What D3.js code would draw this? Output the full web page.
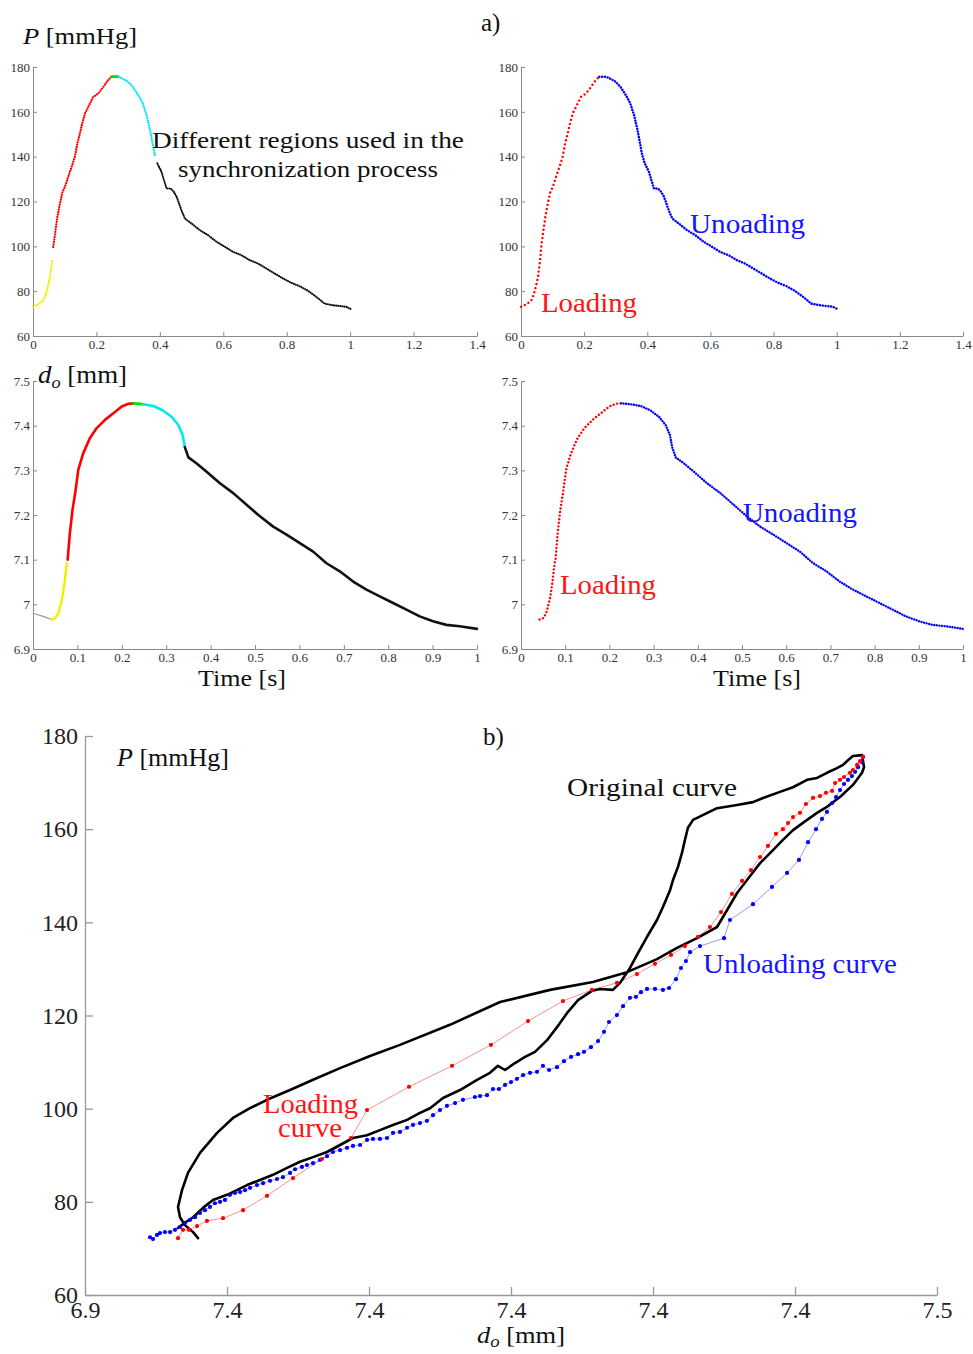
<!DOCTYPE html>
<html><head><meta charset="utf-8">
<script src="https://cdn.jsdelivr.net/npm/d3@7"></script>
<style>body{margin:0;background:#fff} svg{display:block} text{font-family:"Liberation Serif","Times New Roman",serif}</style>
</head><body><svg id="c" width="973" height="1354"></svg>
<script>
// ---------- DATA ----------
// a) pressure vs time
const pTime = [0,0.017,0.033,0.041,0.048,0.054,0.061,0.064,0.069,0.077,0.085,0.093,0.101,0.111,0.122,0.132,0.140,0.148,0.155,0.164,0.177,0.190,0.206,0.222,0.237,0.248,0.269,0.285,0.300,0.316,0.332,0.346,0.358,0.369,0.377,0.384,0.392,0.405,0.421,0.434,0.444,0.453,0.468,0.479,0.500,0.526,0.552,0.579,0.605,0.631,0.658,0.684,0.710,0.736,0.763,0.789,0.815,0.841,0.868,0.894,0.920,0.946,0.973,0.988,1.004];
const pValue = [73.0,74.1,75.9,78.9,82.6,86.4,94.5,99.8,105.0,113.2,119.1,124.3,126.6,131.0,135.5,140.0,146.0,150.4,154.8,159.3,163.0,166.7,168.2,171.2,174.2,175.7,175.7,174.6,173.4,170.9,167.5,163.8,158.6,151.9,145.9,140.7,137.0,133.3,125.8,125.8,124.3,122.1,116.1,112.4,110.2,107.2,105.0,102.0,99.8,97.5,96.0,93.8,92.3,90.1,87.8,85.6,83.7,82.2,80.1,77.4,74.4,73.7,73.3,73.0,71.9];
// a) diameter vs time
const dTime = [0,0.023,0.042,0.050,0.057,0.065,0.071,0.076,0.078,0.083,0.089,0.095,0.102,0.113,0.128,0.143,0.162,0.181,0.200,0.215,0.226,0.248,0.271,0.293,0.312,0.327,0.337,0.342,0.350,0.368,0.391,0.421,0.451,0.481,0.511,0.541,0.571,0.601,0.631,0.661,0.691,0.721,0.751,0.781,0.811,0.841,0.871,0.901,0.931,0.961,1.000];
const dValue = [6.980,6.973,6.966,6.969,6.980,7.010,7.048,7.092,7.100,7.159,7.212,7.249,7.301,7.338,7.372,7.394,7.413,7.428,7.443,7.449,7.450,7.448,7.444,7.434,7.420,7.402,7.379,7.352,7.329,7.316,7.297,7.271,7.249,7.223,7.197,7.174,7.156,7.137,7.118,7.092,7.074,7.051,7.033,7.018,7.003,6.988,6.973,6.962,6.954,6.951,6.945];
// region boundaries (time) used in the synchronization process
const pRegionBounds = [0, 0.062, 0.248, 0.269, 0.388, 1.01];
const dRegionBounds = [0, 0.042, 0.077, 0.226, 0.248, 0.342, 1.0];
const pLoadBounds = [0, 0.248, 1.01];
const dLoadBounds = [0.042, 0.226, 1.0];
// b) P-d loops
const origD = [6.9655,6.9704,6.9761,6.9831,6.9901,7.0000,7.0070,7.0141,7.0232,7.0324,7.0423,7.0514,7.0606,7.0704,7.0796,7.0887,7.0986,7.1077,7.1169,7.1268,7.1359,7.1430,7.1521,7.1641,7.1761,7.1852,7.1908,7.1958,7.2028,7.2099,7.2169,7.2254,7.2324,7.2394,7.2472,7.2570,7.2627,7.2718,7.2768,7.2838,7.2894,7.2958,7.3028,7.3070,7.3120,7.3141,7.3176,7.3204,7.3225,7.3246,7.3282,7.3451,7.3592,7.3704,7.3775,7.3894,7.3986,7.4085,7.4155,7.4225,7.4296,7.4338,7.4373,7.4408,7.4472,7.4486,7.4472,7.4408,7.4317,7.4225,7.4155,7.4085,7.3986,7.3915,7.3845,7.3754,7.3662,7.3592,7.3521,7.3451,7.3310,7.3169,7.3028,7.2817,7.2577,7.2275,7.1923,7.1570,7.1218,7.1007,7.0796,7.0606,7.0444,7.0282,7.0162,7.0042,6.9930,6.9810,6.9725,6.9683,6.9655,6.9669,6.9704,6.9761,6.9796];
const origP = [74.4,75.5,76.7,78.7,80.4,81.5,82.5,83.6,84.7,85.8,87.3,88.6,89.6,90.7,92.2,93.7,94.3,95.4,96.5,97.6,99.1,100.1,102.3,104.0,106.2,107.7,109.2,108.3,109.8,111.1,112.2,114.7,117.5,120.5,123.3,125.3,125.7,125.5,127.0,130.2,133.4,136.9,140.5,143.3,146.9,149.1,151.9,154.9,157.7,160.3,162.0,164.5,165.2,165.8,166.7,168.0,169.0,170.6,171.0,172.1,173.1,173.8,174.8,175.7,175.9,173.3,172.1,169.5,166.9,164.8,163.5,162.0,159.8,157.7,155.5,152.7,149.1,146.3,142.6,139.0,136.6,134.5,132.1,129.3,127.2,125.5,122.9,118.0,113.7,111.3,108.7,106.2,104.0,101.9,100.1,98.0,94.8,90.5,86.2,82.5,78.9,76.7,75.0,73.5,72.2];
const loadD = [6.9655,6.9690,6.9732,6.9789,6.9859,6.9972,7.0113,7.0282,7.0465,7.0669,7.0873,7.0986,7.1282,7.1585,7.1859,7.2120,7.2366,7.2570,7.2746,7.2887,7.3014,7.3127,7.3225,7.3317,7.3401,7.3479,7.3556,7.3627,7.3690,7.3754,7.3810,7.3866,7.3915,7.3951,7.3986,7.4035,7.4077,7.4127,7.4176,7.4218,7.4261,7.4282,7.4317,7.4345,7.4387,7.4408,7.4437,7.4458,7.4479];
const loadP = [72.2,74.0,74.0,74.8,75.9,76.5,78.2,81.3,85.1,89.2,93.7,99.7,104.7,109.2,113.7,118.8,123.1,125.5,127.0,128.9,131.1,133.0,134.9,136.9,139.0,142.2,146.1,148.9,151.2,154.0,156.4,159.0,160.0,161.3,162.6,163.5,165.4,166.7,167.1,167.8,168.2,169.9,170.6,171.2,172.1,172.7,173.8,174.6,175.5];
const unloadD = [7.4479,7.4472,7.4444,7.4423,7.4401,7.4373,7.4345,7.4317,7.4289,7.4261,7.4225,7.4190,7.4148,7.4092,7.4028,7.3944,7.3838,7.3704,7.3542,7.3500,7.3331,7.3261,7.3232,7.3197,7.3162,7.3113,7.3070,7.3014,7.2958,7.2915,7.2880,7.2838,7.2789,7.2746,7.2690,7.2655,7.2613,7.2563,7.2514,7.2472,7.2423,7.2373,7.2324,7.2268,7.2225,7.2183,7.2134,7.2085,7.2042,7.2000,7.1958,7.1915,7.1873,7.1831,7.1782,7.1746,7.1662,7.1606,7.1549,7.1500,7.1451,7.1408,7.1359,7.1310,7.1268,7.1218,7.1169,7.1127,7.1077,7.1028,7.0986,7.0937,7.0887,7.0845,7.0796,7.0746,7.0704,7.0655,7.0606,7.0563,7.0528,7.0479,7.0444,7.0394,7.0352,7.0303,7.0254,7.0211,7.0162,7.0127,7.0092,7.0056,7.0021,6.9986,6.9951,6.9915,6.9880,6.9845,6.9810,6.9775,6.9739,6.9704,6.9669,6.9634,6.9599,6.9563,6.9528,6.9507,6.9479,6.9458];
const unloadP = [175.5,174.4,173.3,172.3,171.4,170.6,169.7,168.4,166.9,165.6,163.7,162.2,160.0,157.2,153.4,150.6,147.6,143.9,140.5,136.6,134.9,133.6,131.7,130.2,127.8,125.9,125.5,125.7,125.7,125.0,124.0,123.8,122.0,120.1,118.6,116.5,114.5,113.2,112.2,111.7,111.1,110.2,108.9,108.3,109.2,107.9,107.7,107.2,106.4,105.7,105.1,104.2,104.2,102.9,102.7,102.5,101.9,101.2,100.6,99.7,98.6,97.4,96.9,96.5,95.9,95.0,94.8,93.7,93.5,93.5,93.3,92.2,92.0,91.6,91.1,90.7,89.8,89.0,88.3,87.9,87.5,87.0,86.2,85.3,84.9,84.5,84.0,83.6,83.0,82.5,82.1,81.9,81.5,80.4,80.0,79.7,78.9,78.2,77.6,76.7,76.1,75.5,74.6,74.0,73.5,73.5,73.3,72.9,72.0,72.4];
// ticks
const topXTicks = [0,0.2,0.4,0.6,0.8,1,1.2,1.4];
const pTicks = [60,80,100,120,140,160,180];
const dTicks = [6.9,7.0,7.1,7.2,7.3,7.4,7.5];
const midXTicks = [0,0.1,0.2,0.3,0.4,0.5,0.6,0.7,0.8,0.9,1];
const bXTicks = [6.9,7.0,7.1,7.2,7.3,7.4,7.5];
const bXTickLabels = ["6.9","7.4","7.4","7.4","7.4","7.4","7.5"];
const bYTicks = [60,80,100,120,140,160,180];

// ---------- DRAW ----------
const svg = d3.select("#c");
const RED="#ff0000", BLUE="#0000ff";
const shortFmt = d => String(+(+d).toFixed(3));

function axes(xs, ys, xt, yt, o){
  const g = svg.append("g");
  const ax = d3.axisBottom(xs).tickValues(xt).tickSizeInner(-o.tick).tickSizeOuter(0).tickPadding(o.padX)
    .tickFormat(o.xfmt || shortFmt);
  const ay = d3.axisLeft(ys).tickValues(yt).tickSizeInner(-o.tick).tickSizeOuter(0).tickPadding(o.padY)
    .tickFormat(shortFmt);
  const gx = g.append("g").attr("transform",`translate(0,${ys.range()[0]})`).call(ax);
  const gy = g.append("g").attr("transform",`translate(${xs.range()[0]},0)`).call(ay);
  [gx,gy].forEach(a=>{
    a.attr("font-family",null).attr("font-size",null);
    a.select(".domain").attr("stroke",o.color).attr("stroke-width",o.sw);
    a.selectAll(".tick line").attr("stroke",o.color).attr("stroke-width",o.sw);
    a.selectAll(".tick text").attr("fill",o.tc).style("font-size",o.fs+"px").style("font-family",'"Liberation Serif",serif');
  });
  return g;
}

function seg(ts, vs, a, b){
  const out=[]; ts.forEach((t,i)=>{ if(t>=a-1e-9 && t<=b+1e-9) out.push([t,vs[i]]); }); return out;
}
function drawRegions(ts, vs, bounds, colors, xs, ys, styles){
  const line = d3.line().x(d=>xs(d[0])).y(d=>ys(d[1]));
  for(let k=0;k<bounds.length-1;k++){
    const pts = seg(ts, vs, bounds[k], bounds[k+1]);
    const st = styles[k] || styles[0];
    svg.append("path").attr("d",line(pts)).attr("fill","none").attr("stroke",colors[k])
      .attr("stroke-width",st.w).attr("stroke-dasharray",st.dash||null)
      .attr("stroke-linecap",st.cap||"round").attr("stroke-linejoin","round");
  }
}

function label(x, y, parts, o){
  const t = svg.append("text").attr("x",x).attr("y",y).style("font-size",o.fs+"px").attr("fill",o.fill||"#111");
  if(o.len) t.attr("textLength",o.len).attr("lengthAdjust","spacingAndGlyphs");
  parts.forEach(p=>{
    const s = t.append("tspan").text(p.t);
    if(p.i) s.style("font-style","italic");
    if(p.dy) s.attr("dy",p.dy);
    if(p.fs) s.style("font-size",p.fs+"px");
  });
  return t;
}

const topAxis = {tick:4, padX:4, padY:3, color:"#8a8a8a", sw:1, tc:"#333", fs:13};

// panel a1 (top-left)
const x1 = d3.scaleLinear().domain([0,1.4]).range([33,477]);
const y1 = d3.scaleLinear().domain([60,180]).range([336,67]);
axes(x1,y1,topXTicks,pTicks,topAxis);
const dotS = {w:2.3, dash:"0.01 2.5"};
drawRegions(pTime,pValue,pRegionBounds,["#f0f000",RED,"#00e000","#00e8f0","#111"],x1,y1,[dotS,dotS,{w:2.6},dotS,{w:2.1,dash:"0.01 2.1"}]);

// panel a2 (top-right)
const x2 = d3.scaleLinear().domain([0,1.4]).range([521,963]);
axes(x2,y1,topXTicks,pTicks,topAxis);
drawRegions(pTime,pValue,pLoadBounds,[RED,BLUE],x2,y1,[{w:2.4,dash:"0.01 4.2"},{w:2.5,dash:"0.01 2.8"}]);

// panel a3 (middle-left)
const x3 = d3.scaleLinear().domain([0,1]).range([33,477]);
const y3 = d3.scaleLinear().domain([6.9,7.5]).range([649,381]);
axes(x3,y3,midXTicks,dTicks,topAxis);
drawRegions(dTime,dValue,dRegionBounds,["#999","#f0f000",RED,"#00e000","#00e8f0","#111"],x3,y3,[{w:1.2},{w:2.4},{w:2.6},{w:2.8},{w:2.6},{w:2.6}]);

// panel a4 (middle-right)
const x4 = d3.scaleLinear().domain([0,1]).range([521,963]);
axes(x4,y3,midXTicks,dTicks,topAxis);
drawRegions(dTime,dValue,dLoadBounds,[RED,BLUE],x4,y3,[{w:2.4,dash:"0.01 3.6"},{w:2.4,dash:"0.01 2.6"}]);

// panel b
const xb = d3.scaleLinear().domain([6.9,7.5]).range([85,937]);
const yb = d3.scaleLinear().domain([60,180]).range([1295,736]);
axes(xb,yb,bXTicks,bYTicks,{tick:8,padX:6,padY:7,color:"#999",sw:1.3,tc:"#222",fs:24,xfmt:(d,i)=>bXTickLabels[i]});

const lineB = d3.line().x(d=>xb(d[0])).y(d=>yb(d[1]));
const zip = (a,b)=>a.map((v,i)=>[v,b[i]]);
const origPts = zip(origD,origP), loadPts = zip(loadD,loadP), unloadPts = zip(unloadD,unloadP);
svg.append("path").attr("d",lineB(loadPts)).attr("fill","none").attr("stroke","#ff9090").attr("stroke-width",1);
svg.append("path").attr("d",lineB(unloadPts)).attr("fill","none").attr("stroke","#9a9aff").attr("stroke-width",1);
svg.append("path").attr("d",lineB(origPts)).attr("fill","none").attr("stroke","#000").attr("stroke-width",2.6).attr("stroke-linejoin","round").attr("stroke-linecap","round");
svg.append("g").selectAll("circle").data(unloadPts).join("circle").attr("cx",d=>xb(d[0])).attr("cy",d=>yb(d[1])).attr("r",2.1).attr("fill",BLUE);
svg.append("g").selectAll("circle").data(loadPts).join("circle").attr("cx",d=>xb(d[0])).attr("cy",d=>yb(d[1])).attr("r",2.1).attr("fill",RED);

// ---------- TEXT ----------
label(481,31,[{t:"a)"}],{fs:25});
label(23,44,[{t:"P",i:true},{t:" [mmHg]"}],{fs:24,len:114});
label(152,148,[{t:"Different regions used in the"}],{fs:23,len:312});
label(178,177,[{t:"synchronization process"}],{fs:23,len:260});
label(690,233,[{t:"Unoading"}],{fs:27,len:115,fill:"#1414ff"});
label(541,312,[{t:"Loading"}],{fs:27,len:96,fill:"#ff1414"});
label(38,383,[{t:"d",i:true},{t:"o",i:true,dy:5,fs:17},{t:" [mm]",dy:-5}],{fs:25,len:89});
label(198,686,[{t:"Time [s]"}],{fs:24,len:88});
label(713,686,[{t:"Time [s]"}],{fs:24,len:88});
label(743,522,[{t:"Unoading"}],{fs:27,len:114,fill:"#1414ff"});
label(560,594,[{t:"Loading"}],{fs:27,len:96,fill:"#ff1414"});
label(483,745,[{t:"b)"}],{fs:25});
label(117,766,[{t:"P",i:true},{t:" [mmHg]"}],{fs:25,len:112});
label(567,796,[{t:"Original curve"}],{fs:26,len:170});
label(703,973,[{t:"Unloading curve"}],{fs:27,len:194,fill:"#1414ff"});
label(263,1113,[{t:"Loading"}],{fs:27,len:95,fill:"#ff1414"});
label(278,1137,[{t:"curve"}],{fs:27,len:64,fill:"#ff1414"});
label(477,1343,[{t:"d",i:true},{t:"o",i:true,dy:4,fs:17},{t:" [mm]",dy:-4}],{fs:24,len:88});
</script></body></html>
